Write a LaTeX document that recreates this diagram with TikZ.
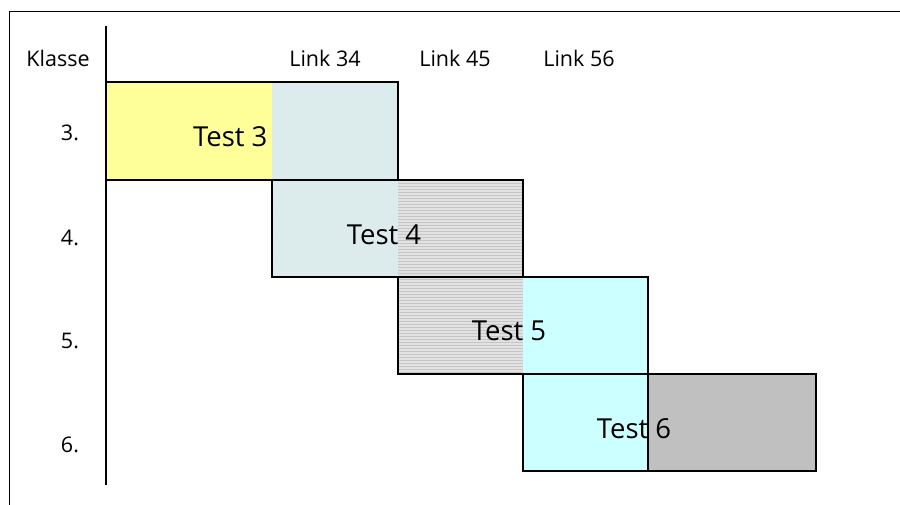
\documentclass[tikz,border=0pt]{standalone}
\usepackage{fontspec}
\setmainfont{Open Sans}
\usetikzlibrary{patterns}
\definecolor{gelb}{HTML}{FFFF99}
\definecolor{hellblau}{HTML}{DCEEF1}
\definecolor{hellgrau}{HTML}{E2E2E2}
\definecolor{tuerkis}{HTML}{CCFFFF}
\definecolor{grau}{HTML}{C0C0C0}
\tikzset{
  lbl/.style={font=\fontsize{21.5}{24}\selectfont,inner sep=0pt},
  testlbl/.style={font=\fontsize{27.5}{30}\selectfont,inner sep=0pt},
  box/.style={draw,line width=1.3pt}
}

\begin{document}
\begin{tikzpicture}[x=1pt,y=-1pt,line width=1pt]
	  \useasboundingbox (0,0) rectangle (900,505);
	  \draw (9,505) -- (9,12) -- (900,12);
	  \draw[line width=1.3pt] (106,26) -- (106,485);
	  % fills
	  \fill[gelb] (106,82) rectangle (272,180);
	  \fill[hellblau] (272,82) rectangle (398,277);
	  \fill[pattern=north east lines,pattern color=hellblau!80!gray!60] (272,82) rectangle (398,277);
	  \fill[hellgrau] (398,180) rectangle (523,374);
	  \fill[pattern=horizontal lines,pattern color=gray!45] (398,180) rectangle (523,374);
	  \fill[tuerkis] (523,277) rectangle (648,471);
	  \fill[grau] (648,374) rectangle (816,471);
	  % outlines
	  \draw[box] (106,82) rectangle (398,180);
	  \draw[box] (272,180) rectangle (523,277);
	  \draw[box] (398,277) rectangle (648,374);
	  \draw[box] (523,374) rectangle (816,471);
	  \draw[box] (648,374) -- (648,471);
	  % labels
	  \node[lbl] (klasse) at (58,58) {Klasse};
	  \node[lbl] (k3) at (70,133) {3.};
	  \node[lbl] (k4) at (70,238) {4.};
	  \node[lbl] (k5) at (70,341) {5.};
	  \node[lbl] (k6) at (70,445) {6.};
	  \node[lbl] (l34) at (325,58) {Link 34};
	  \node[lbl] (l45) at (455,58) {Link 45};
	  \node[lbl] (l56) at (579,58) {Link 56};
	  \node[testlbl,anchor=east] (t3) at (268,137) {Test 3};
	  \node[testlbl] (t4) at (384,235) {Test 4};
	  \node[testlbl] (t5) at (509,331) {Test 5};
	  \node[testlbl] (t6) at (634,429) {Test 6};
	\end{tikzpicture}
\end{document}
